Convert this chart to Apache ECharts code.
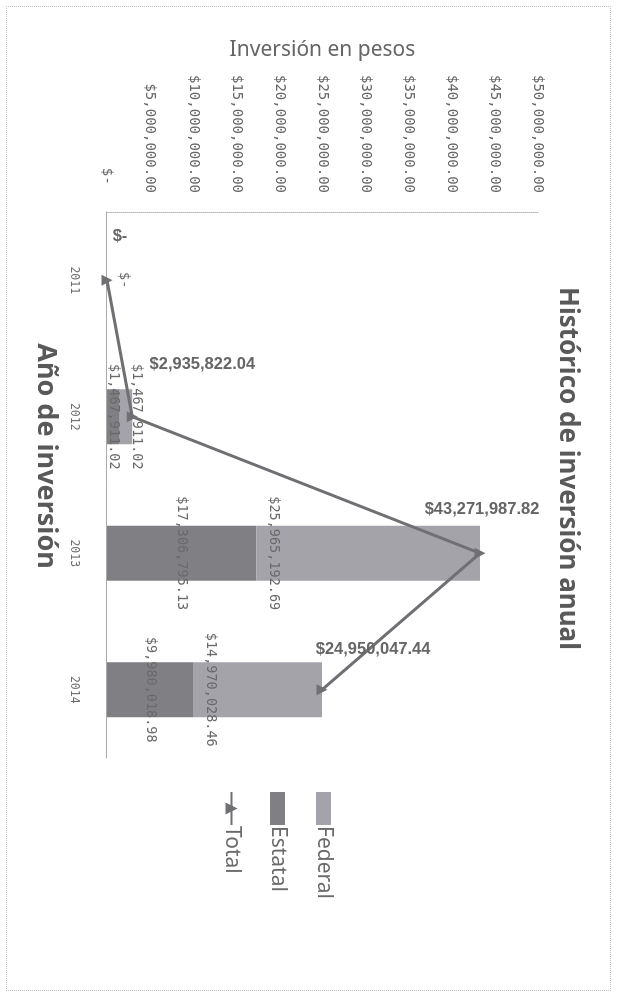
<!DOCTYPE html>
<html>
<head>
<meta charset="utf-8">
<script src="https://cdn.jsdelivr.net/npm/echarts@6/dist/echarts.min.js"></script>
<style>
  html, body { margin: 0; padding: 0; background: #fff; width: 619px; height: 999px; overflow: hidden; }
  #frame { position: absolute; left: 6px; top: 6px; width: 605px; height: 985px; border: 1px dotted #c4c4c4; box-sizing: border-box; }
  /* the scan is turned a quarter turn clockwise, so draw the chart flat and rotate the box */
  #chart { position: absolute; left: 0; top: 0; width: 999px; height: 619px;
           transform-origin: 0 0; transform: translate(619px, 0) rotate(90deg); }
</style>
</head>
<body>
<div id="frame"></div>
<div id="chart"></div>
<script>
var years = ['2011', '2012', '2013', '2014'];
var federal = [0, 1467911.02, 25965192.69, 14970028.46];
var estatal = [0, 1467911.02, 17306795.13, 9980018.98];
var total = [0, 2935822.04, 43271987.82, 24950047.44];
// label offsets for the Total values (moved by hand in the original)
var totalOffsets = [[13, -44], [70, -52], [2, -44], [51, -40]];

function money(v)
{
    if (v === 0) return '$-';
    var parts = v.toFixed(2).split('.');
    return '$' + parts[0].replace(/\B(?=(\d{3})+(?!\d))/g, ',') + '.' + parts[1];
}

var estatalData = [];
var federalData = [];
var totalData = [];
for (var i = 0; i < years.length; i++)
{
    estatalData.push(i === 0 ? {value: estatal[i], label: {show: false}} : estatal[i]);
    federalData.push(federal[i]);
    totalData.push({value: total[i], label: {offset: totalOffsets[i]}});
}

var myChart = echarts.init(document.getElementById('chart'));

var option = {
    animation: false,
    title: {
        text: 'Histórico de inversión anual',
        left: 282,
        top: 34,
        textStyle: {fontFamily: 'Noto Sans', fontSize: 26, fontWeight: 'bold', color: '#595959'}
    },
    legend: {
        orient: 'vertical',
        left: 786,
        top: 280,
        itemWidth: 33,
        itemHeight: 15,
        itemGap: 25,
        data: [{name: 'Federal', icon: 'rect'}, {name: 'Estatal', icon: 'rect'}, 'Total'],
        textStyle: {fontFamily: 'Noto Sans', fontSize: 21, color: '#6a6a6a', lineHeight: 20, padding: [0, 0, 0, -4]}
    },
    grid: {left: 212, right: 241, top: 81, bottom: 107},
    xAxis: {
        type: 'category',
        data: years,
        name: 'Año de inversión',
        nameLocation: 'middle',
        nameGap: 48,
        nameTextStyle: {fontFamily: 'Noto Sans', fontSize: 27, fontWeight: 'bold', color: '#595959', padding: [0, 58, 0, 0]},
        axisLine: {lineStyle: {color: '#aaaaaa', width: 1}},
        axisTick: {show: false},
        axisLabel: {margin: 27, fontFamily: 'DejaVu Sans Mono', fontSize: 11.5, color: '#6e6e6e'}
    },
    yAxis: {
        type: 'value',
        min: 0,
        max: 50000000,
        interval: 5000000,
        name: 'Inversión en pesos',
        nameLocation: 'middle',
        nameGap: 151,
        nameTextStyle: {fontFamily: 'Noto Sans', fontSize: 21, color: '#666'},
        axisLine: {show: true, lineStyle: {color: '#b5b5b5', type: 'dotted', width: 1}},
        axisTick: {show: false},
        splitLine: {show: false},
        axisLabel: {
            margin: 19,
            fontFamily: 'DejaVu Sans Mono',
            fontSize: 14,
            color: '#666',
            formatter: function (v) { return v === 0 ? '$- ' : money(v); }
        }
    },
    series: [
        {
            name: 'Estatal',
            type: 'bar',
            stack: 'inv',
            barWidth: 55,
            itemStyle: {color: '#807f84'},
            label: {
                show: true,
                position: 'inside',
                fontFamily: 'DejaVu Sans Mono',
                fontSize: 13.5,
                color: '#6a6a6a',
                formatter: function (p) { return money(p.value); }
            },
            data: estatalData
        },
        {
            name: 'Federal',
            type: 'bar',
            stack: 'inv',
            barWidth: 55,
            itemStyle: {color: '#a4a3a9'},
            label: {
                show: true,
                position: 'insideBottom',
                distance: 10,
                fontFamily: 'DejaVu Sans Mono',
                fontSize: 13.5,
                color: '#6a6a6a',
                formatter: function (p) { return money(p.value); }
            },
            data: federalData
        },
        {
            name: 'Total',
            type: 'line',
            symbol: 'triangle',
            symbolSize: 11,
            z: 5,
            lineStyle: {color: '#707074', width: 3},
            itemStyle: {color: '#707074'},
            label: {
                show: true,
                position: 'inside',
                rotate: 90,
                fontFamily: 'Liberation Sans',
                fontWeight: 'bold',
                fontSize: 16.5,
                color: '#666',
                formatter: function (p) { return money(p.value); }
            },
            data: totalData
        }
    ]
};

myChart.setOption(option);
</script>
</body>
</html>
